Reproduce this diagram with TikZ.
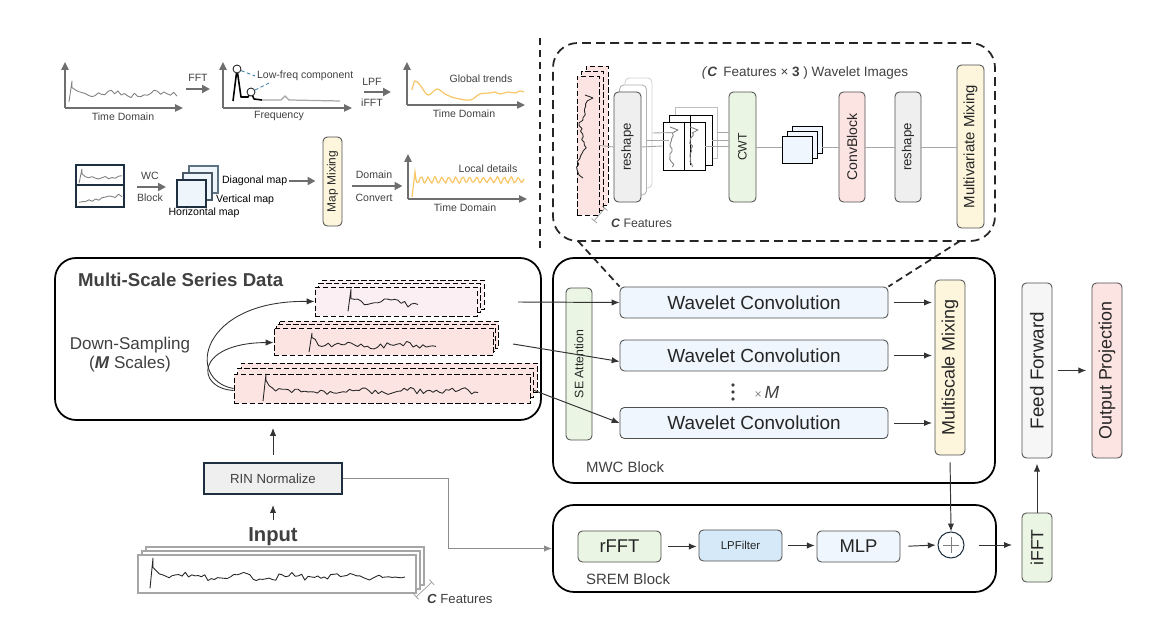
\documentclass[tikz,border=0pt]{standalone}
\usepackage{fontspec}
\usepackage{graphicx}
\setmainfont{Liberation Sans}
\usetikzlibrary{arrows.meta,positioning,calc}

\definecolor{txtgray}{HTML}{404040}
\definecolor{edgegray}{HTML}{505050}
\definecolor{navy}{HTML}{1E3040}
\definecolor{slate}{HTML}{5E7483}
\definecolor{greenfill}{HTML}{EAF6E3}
\definecolor{pinkfill}{HTML}{FCE4E2}
\definecolor{pinklight}{HTML}{FCEFF4}
\definecolor{bluefill}{HTML}{EFF6FD}
\definecolor{lpfblue}{HTML}{D6E9F8}
\definecolor{yellowfill}{HTML}{FDF6DD}
\definecolor{grayfill}{HTML}{EFEFEF}
\definecolor{ffgray}{HTML}{F6F6F6}
\definecolor{sqfill}{HTML}{EEF5FB}
\definecolor{axisgray}{HTML}{6E6E6E}
\definecolor{orangesig}{HTML}{F8C76A}
\definecolor{dashblue}{HTML}{3A7CA5}

\newcommand{\fsz}[1]{\fontsize{#1}{#1}\selectfont}

% noisy series: start, end, level, peak, noise
\newcommand{\tsig}[6][sigline]{%
  \pgfmathsetmacro{\sxa}{#2+3}%
  \pgfmathtruncatemacro{\sns}{(#3-#2)/3.2}%
  \draw[#1] (#2,{#4+0.6*#5}) -- (\sxa,{#4-#5}) -- plot[domain=\sxa:#3, samples=\sns] (\x,{#4-0.55*#5*exp(-(\x-\sxa)/7)+#6*rand+0.6*#6*sin((\x-#2)*7)});
}
% same, standing upright: x, top, bottom, noise, drift
\newcommand{\vsig}[6][sigline]{%
  \pgfmathsetmacro{\sya}{#3+6}%
  \pgfmathtruncatemacro{\sns}{(#4-#3)/2.8}%
  \draw[#1] (#2,#3) -- ({#2+8},{#3+3}) -- ({#2+2},\sya) -- plot[domain=\sya:#4, samples=\sns] ({#2+#6*(\x-#3)+#5*rand+0.8*#5*sin((\x-#3)*9)},\x);
}

\begin{document}
\begin{tikzpicture}[x=0.02cm, y=-0.02cm,
  every node/.style={text=txtgray},
  blk/.style={draw=edgegray, line width=0.5pt, rounded corners=2.5pt, inner sep=0pt, text=black!85},
  sz/.style 2 args={minimum width=#1*0.02cm, minimum height=#2*0.02cm},
  group/.style={draw=black, line width=1pt, rounded corners=12pt, inner sep=0pt},
  wavegroup/.style={draw=black!85, line width=1pt, rounded corners=14pt, dash pattern=on 5pt off 3pt, inner sep=0pt},
  stk/.style={draw=black, line width=0.5pt, dash pattern=on 3pt off 1.5pt, inner sep=0pt},
  instk/.style={draw=gray!70, fill=white, line width=0.6pt, inner sep=0pt},
  conn/.style={draw=black!80, line width=0.55pt, -{Latex[length=4.5pt,width=3.6pt]}},
  fatarr/.style={draw=axisgray, line width=1.3pt, -{Triangle[length=4.5pt,width=4.5pt]}},
  axisarr/.style={draw=axisgray, line width=1.1pt, -{Triangle[length=4.5pt,width=4pt]}},
  sigline/.style={draw=black!85, line width=0.5pt, line join=round},
  graysig/.style={draw=gray, line width=0.5pt, line join=round},
  thinline/.style={draw=gray!70, line width=0.5pt},
  zoomline/.style={draw=black!85, line width=1pt, dash pattern=on 4pt off 2.5pt},
  dimline/.style={draw=gray!80, line width=0.4pt, {Bar[width=4pt]}-{Bar[width=4pt]}},
  lbl/.style={font=\fsz{6}, inner sep=1pt},
]
\useasboundingbox (0,0) rectangle (1167,644);
\pgfmathsetseed{11}

% containers
\node[group, sz={486}{162}] (msbox) at (298,339) {};
\node[group, sz={442}{225}] (mwcbox) at (774,370.5) {};
\node[group, sz={443}{87}] (srembox) at (774.5,548.5) {};
\node[wavegroup, sz={442}{198}] (wavebox) at (774,142) {};
\draw[draw=black!85, line width=1.1pt, dash pattern=on 4pt off 2.8pt] (540,38) -- (540,252);

% top left, first row
\draw[axisarr] (65,108) -- (65,62);
\draw[axisarr] (65,108) -- (183,108);
\tsig[graysig]{69}{177}{94}{13}{3}
\node[lbl] (td1) at (123,117) {Time Domain};
\draw[fatarr] (186,89) -- (210,89);
\node[lbl] (fft) at (198,78) {FFT};

\draw[axisarr] (223,108) -- (223,62);
\draw[axisarr] (223,108) -- (352,108);
\draw[black, line width=0.9pt, line join=round] (233,101) -- (237,69) -- (241,97) -- (248,97) -- (251,92) -- (254,99) -- (262,100);
\draw[gray!70, line width=0.7pt] (262,100) -- (281,100) -- (285,96) -- (289,100) -- (340,101);
\node[circle, draw=black!85, fill=white, line width=0.5pt, minimum size=8*0.02cm, inner sep=0pt] (pk1) at (237,69) {};
\node[circle, draw=black!85, fill=white, line width=0.5pt, minimum size=8*0.02cm, inner sep=0pt] (pk2) at (251,92) {};
\node[lbl, anchor=west] (lowf) at (255,76) {Low-freq component};
\draw[dashblue, line width=0.5pt, dash pattern=on 2pt off 1.5pt] (pk1) -- (lowf.west);
\draw[dashblue, line width=0.5pt, dash pattern=on 2pt off 1.5pt] (pk2) -- ($(lowf.south west)+(14,0)$);
\node[lbl] (freq) at (279,116) {Frequency};
\draw[fatarr] (364,92) -- (391,92);
\node[lbl] (lpf) at (372,82) {LPF};
\node[lbl] (ifftl) at (372,103) {iFFT};

\draw[axisarr] (407,105) -- (407,62);
\draw[axisarr] (407,105) -- (525,105);
\draw[orangesig, line width=0.7pt] plot[smooth, tension=0.6] coordinates {(412,90) (415,81) (420,85) (428,95) (437,89) (445,94) (455,98) (470,100) (480,94) (490,93) (495,92) (500,94) (508,92) (515,93) (520,91) (524,92)};
\node[lbl] (glob) at (481,79) {Global trends};
\node[lbl] (td2) at (464,114) {Time Domain};

% top left, second row
\node[draw=navy, line width=0.8pt, fill=white, sz={48}{20}, inner sep=0pt] (wcin1) at (100,175) {};
\node[draw=navy, line width=0.8pt, fill=white, sz={48}{22}, inner sep=0pt] (wcin2) at (100,196) {};
\tsig[graysig]{79}{122}{178}{9}{1.6}
\draw[graysig] plot[domain=79:122, samples=14] (\x,{203-0.18*(\x-79)+1.8*rand});
\draw[fatarr] (137,187) -- (166,187);
\node[lbl] (wcl) at (150,176) {WC};
\node[lbl] (blockl) at (150,198) {Block};
\foreach \i/\c in {2/slate,1/navy!80,0/navy}
  \node[draw=\c, fill=sqfill, line width=0.7pt, sz={29}{27}, inner sep=0pt] (map\i) at (191.5+6*\i,193.5-7*\i) {};
\node[lbl, text=black, anchor=west] (diag) at (220,181) {Diagonal map};
\node[lbl, text=black, anchor=west] (vert) at (214,200) {Vertical map};
\node[lbl, text=black] (horiz) at (204,213) {Horizontal map};
\node[blk, fill=yellowfill, sz={19}{89}] (mapmix) at (332.5,181.5) {\rotatebox{90}{\fsz{6.8}Map Mixing}};
\draw[fatarr, shorten >=4pt] (diag.east) -- (diag.east -| mapmix.west);
\draw[fatarr] ($(mapmix.east)+(10,4.5)$) -- ++(50,0);
\node[lbl] (domn) at (374,175) {Domain};
\node[lbl] (conv) at (374,198) {Convert};
\draw[axisarr] (408,199) -- (408,154);
\draw[axisarr] (408,199) -- (527,199);
\draw[orangesig, line width=0.7pt] (412,197) -- (415,172) -- plot[domain=416:524, samples=110] (\x,{180+2.8*sin((\x-416)*52)+0.7*rand});
\node[lbl] (locd) at (488,169) {Local details};
\node[lbl] (td3) at (465,208) {Time Domain};

% wavelet convolution in detail
\foreach \i in {2,1,0}
  \node[stk, fill=pinkfill, sz={22}{139}] (pink\i) at (588+4.5*\i,145.5-5*\i) {};
\vsig{585}{95}{178}{2.6}{-0.06}
\draw[dimline] (605,208) -- (594,221);
\node[anchor=west, inner sep=1pt] (cfeat1) at (609,223) {\fsz{7}\textbf{\textit{C}} Features};
\foreach \i/\c in {2/gray!35,1/gray!60}
  \node[blk, draw=\c, fill=white, sz={27}{110}] (rsb\i) at (627.5+5.5*\i,147-7*\i) {};
\node[blk, fill=grayfill, sz={27}{110}] (rs1) at (627.5,147) {\rotatebox{90}{\fsz{7.5}reshape}};
\draw[thinline] (pink0.east) -- (rs1.west);
\node[draw=gray!50, line width=0.5pt, sz={42}{51}, inner sep=0pt] (imgb) at (696,132.5) {};
\node[draw=black, fill=white, line width=0.5pt, sz={43}{50}, inner sep=0pt] (imgm) at (690.5,140) {};
\node[draw=black, fill=white, line width=0.5pt, sz={42}{48}, inner sep=0pt] (imgf) at (684,146) {};
\draw[black, line width=0.5pt] (imgm.north) -- (imgm.south);
\draw[black, line width=0.5pt] (imgf.north) -- (imgf.south);
\vsig[graysig]{670}{127}{167}{2}{0.08}
\vsig[graysig]{690}{127}{167}{2}{0.05}
\draw[thinline] (rs1.east) -- (imgf.west);
\draw[thinline] (rsb1.east) -- (imgm.west);
\draw[thinline] (rsb2.east) -- (imgb.west);
\node[blk, fill=greenfill, sz={27}{110}] (cwt) at (742.5,147) {\rotatebox{90}{\fsz{7}CWT}};
\draw[thinline] (imgf.east) -- (imgf.east -| cwt.west);
\draw[thinline] (imgm.east) -- (imgm.east -| cwt.west);
\draw[thinline] (imgb.east) -- (imgb.east -| cwt.west);
\foreach \i in {2,1,0}
  \node[draw=black, fill=bluefill, line width=0.5pt, sz={30}{27}, inner sep=0pt] (sq\i) at (797+5*\i,149.5-5*\i) {};
\draw[thinline] (cwt.east) -- (cwt.east -| sq0.west);
\node[blk, fill=pinkfill, sz={26}{110}] (convb) at (852,147) {\rotatebox{90}{\fsz{8}ConvBlock}};
\draw[thinline] (convb.west -| sq2.east) -- (convb.west);
\node[blk, fill=grayfill, sz={26}{110}] (rs2) at (908,147) {\rotatebox{90}{\fsz{7.5}reshape}};
\draw[thinline] (convb.east) -- (rs2.west);
\node[blk, fill=yellowfill, sz={27}{163}] (mvm) at (970.5,146.5) {\rotatebox{90}{\fsz{8.5}Multivariate Mixing}};
\draw[thinline] (rs2.east) -- (rs2.east -| mvm.west);
\node (wavtitle) at (805,73) {\fsz{7.7}\textit{(}\textbf{\textit{C}}\, Features × \textbf{3} ) Wavelet Images};

% multi-scale series
\node[anchor=west] (mstitle) at (72,280) {\fsz{10.6}\textbf{Multi-Scale Series Data}};
\foreach \i in {2,1,0}
  \node[stk, fill=pinklight, sz={162}{29}] (s1b\i) at (396+3.5*\i,301.5-3.5*\i) {};
\foreach \i in {2,1,0}
  \node[stk, fill=pinkfill, sz={219}{27}] (s2b\i) at (383.5+2.5*\i,341.5-3.5*\i) {};
\foreach \i in {2,1,0}
  \node[stk, fill=pinkfill, sz={296}{29}] (s3b\i) at (382+3.5*\i,388.5-5.5*\i) {};
\tsig{348}{418}{303}{14}{2.8}
\tsig{309}{436}{345}{12}{2.6}
\tsig{263}{478}{391}{17}{2.8}
\node (dslbl) at (130,345) {\fsz{9.7}Down-Sampling};
\node (mslbl) at (130,364) {\fsz{9.7}(\textbf{\textit{M}} Scales)};
\draw[conn, line width=0.5pt] (s3b0.west) .. controls (185,380) and (200,300) .. (s1b0.west);
\draw[conn, line width=0.5pt] ($(s3b0.west)+(0,2)$) .. controls (195,388) and (195,343) .. ($(s2b0.west)+(0,1)$);

% MWC block
\node[blk, fill=greenfill, sz={26}{152}] (se) at (579,364) {\rotatebox{90}{\fsz{7}SE Attention}};
\node[blk, fill=bluefill, sz={268}{31}] (wc1) at (754,302.5) {\fsz{10.8}Wavelet Convolution};
\node[blk, fill=bluefill, sz={268}{31}] (wc2) at (754,355.5) {\fsz{10.8}Wavelet Convolution};
\node[blk, fill=bluefill, sz={268}{31}] (wc3) at (754,423) {\fsz{10.8}Wavelet Convolution};
\coordinate (o1) at (518,302);
\coordinate (o2) at (513,344);
\coordinate (o3) at (533,390);
\draw[conn] (o1) -- (wc1.west);
\draw[conn] (o2) -- ($(wc2.west)+(0,6)$);
\draw[conn] (o3) -- (wc3.west);
\foreach \k in {0,1,2}
  \fill[txtgray] (733,385+7*\k) circle (1.1pt);
\node (xm) at (767,392) {{\fsz{7}\color{gray}×}\,\fsz{10}\textit{M}};
\node[blk, fill=yellowfill, sz={30}{175}] (mm) at (950,367.5) {\rotatebox{90}{\fsz{10.2}Multiscale Mixing}};
\foreach \n in {wc1,wc2,wc3}
  \draw[conn, shorten <=3pt, shorten >=1.5pt] (\n.east) -- (\n.east -| mm.west);
\node[anchor=west] (mwclbl) at (580,467) {\fsz{8.5}MWC Block};
\coordinate (wbl) at (578,241);
\coordinate (wbr) at (960,241);
\draw[zoomline] (wbl) -- (wc1.north west);
\draw[zoomline] (wbr) -- (wc1.north east);

% SREM block
\node[blk, fill=greenfill, sz={83}{31}] (rfft) at (619.5,546.5) {\fsz{10.5}rFFT};
\node[blk, fill=lpfblue, sz={83}{31}] (lpfl) at (740.5,545.5) {\fsz{6.5}LPFilter};
\node[blk, fill=bluefill, sz={83}{31}] (mlp) at (858.5,546.5) {\fsz{10.5}MLP};
\node[circle, draw=navy, line width=0.6pt, fill=white, minimum size=26*0.02cm, inner sep=0pt] (plus) at (951,545) {};
\draw[gray, line width=0.5pt] (plus.center) ++(-8,0) -- ++(16,0);
\draw[gray, line width=0.5pt] (plus.center) ++(0,-8) -- ++(0,16);
\draw[conn, shorten <=3.5pt, shorten >=1pt] (rfft.east) -- (rfft.east -| lpfl.west);
\draw[conn, shorten <=3pt, shorten >=1pt] (lpfl.east) -- (lpfl.east -| mlp.west);
\draw[conn, shorten <=4.5pt, shorten >=1pt] (mlp.east) -- (plus.west);
\draw[conn, shorten <=4pt] (mm.south) -- (plus.north);
\node[anchor=west] (sremlbl) at (580,579) {\fsz{8.5}SREM Block};

% output side
\node[blk, fill=ffgray, sz={30}{175}] (ff) at (1037,370.5) {\rotatebox{90}{\fsz{10.7}Feed Forward}};
\node[blk, fill=pinkfill, sz={30}{175}] (outp) at (1107,370.5) {\rotatebox{90}{\fsz{10.2}Output Projection}};
\node[blk, fill=greenfill, sz={30}{69}] (ifft) at (1037,547.5) {\rotatebox{90}{\fsz{10}iFFT}};
\draw[conn, shorten <=3pt, shorten >=3pt] (ff.east) -- (outp.west);
\draw[conn, shorten >=3pt] (ifft.north) -- (ff.south);
\draw[conn, shorten <=8pt, shorten >=5.5pt] (plus.east) -- (plus.east -| ifft.west);

% input side
\foreach \i in {2,1,0}
  \node[instk, sz={278}{38}] (in\i) at (277+4*\i,574-4*\i) {};
\tsig{150}{405}{577}{19}{3}
\draw[dimline] (432,582) -- (416,597);
\node[anchor=west, inner sep=1pt] (cfeat2) at (425,599) {\fsz{7.5}\textbf{\textit{C}} Features};
\node (inlbl) at (273,537) {\fsz{11.5}\textbf{Input}};
\node[draw=navy, fill=grayfill, line width=0.6pt, sz={138}{31}, inner sep=0pt] (rin) at (273,478.5) {\fsz{7.5}RIN Normalize};
\draw[conn, shorten <=1pt, shorten >=6pt] (inlbl.north) -- (rin.south);
\draw[conn, shorten <=4.5pt, shorten >=4pt] (rin.north) -- (rin.north |- msbox.south);
\draw[conn, draw=gray!90] (rin.east) -| (448,548.5) -- (srembox.west);
\end{tikzpicture}
\end{document}
